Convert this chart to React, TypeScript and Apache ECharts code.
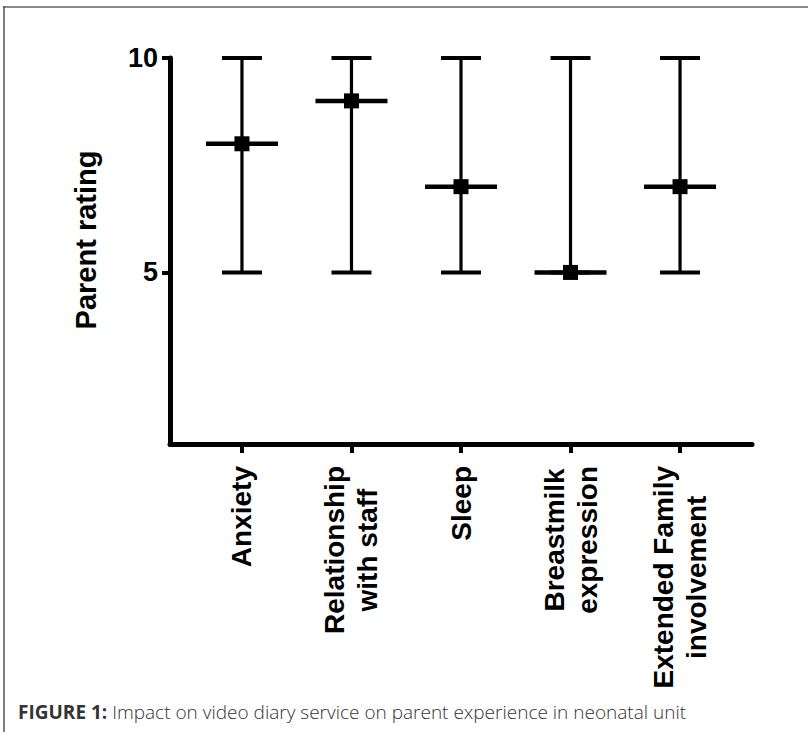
import React, { useEffect, useRef } from "react";
import * as echarts from "echarts";

const categories = [
  "Anxiety",
  "Relationship\nwith staff",
  "Sleep",
  "Breastmilk\nexpression",
  "Extended Family\ninvolvement",
];
const lows = [5, 5, 5, 5, 5];
const highs = [10, 10, 10, 10, 10];
const medians = [8, 9, 7, 5, 7];
const yTicks = [5, 10];
const yName = "Parent rating";
const captionBold = "FIGURE 1:";
const captionText = " Impact on video diary service on parent experience in neonatal unit";

const FONT = "'Liberation Sans', Arial, Helvetica, sans-serif";
const LABEL_SIZE = 28;
const LABEL_LINE = 33;
const Y_MIN = 1;
const Y_MAX = 10;

function measure(t: string, size: number): number {
  const ctx = document.createElement("canvas").getContext("2d");
  if (!ctx) return t.length * size * 0.55;
  ctx.font = `bold ${size}px 'Liberation Sans'`;
  return ctx.measureText(t).width;
}

export default function App() {
  const ref = useRef<HTMLDivElement>(null);
  useEffect(() => {
    if (!ref.current) return;
    const chart = echarts.init(ref.current, null, { renderer: "svg" });
    const xIdx = categories.map((_, i) => i);
    const barData = categories.map((_, i) => [i, lows[i], highs[i], medians[i]]);
    const medData = categories.map((_, i) => [i, medians[i]]);

    chart.setOption({
      animation: false,
      backgroundColor: "#ffffff",
      grid: { left: 170, right: 56, top: 58, bottom: 288, containLabel: false },
      xAxis: {
        type: "value",
        min: -0.657,
        max: 4.657,
        splitLine: { show: false },
        axisLine: { show: true, onZero: false, lineStyle: { color: "#000", width: 5 } },
        axisTick: {
          show: true,
          customValues: xIdx,
          length: 9,
          lineStyle: { color: "#000", width: 4 },
        },
        axisLabel: { show: false },
      },
      yAxis: {
        type: "value",
        min: Y_MIN,
        max: Y_MAX,
        name: yName,
        nameLocation: "middle",
        nameRotate: 90,
        nameGap: 70,
        nameTextStyle: {
          color: "#000",
          fontFamily: FONT,
          fontWeight: "bold",
          fontSize: 29,
          padding: [0, 0, 0, 22],
        },
        splitLine: { show: false },
        axisLine: { show: true, onZero: false, lineStyle: { color: "#000", width: 5 } },
        axisTick: {
          show: true,
          customValues: yTicks,
          length: 8,
          lineStyle: { color: "#000", width: 4 },
        },
        axisLabel: {
          show: true,
          customValues: yTicks,
          margin: 12,
          color: "#000",
          fontFamily: FONT,
          fontWeight: "bold",
          fontSize: 27,
        },
      },
      series: [
        {
          type: "custom",
          data: barData,
          renderItem: (params: any, api: any) => {
            const x = api.value(0);
            const lo = api.coord([x, api.value(1)]);
            const hi = api.coord([x, api.value(2)]);
            const md = api.coord([x, api.value(3)]);
            const cx = lo[0];
            const capW = 20;
            const medW = 36;
            const st = { stroke: "#000" };
            return {
              type: "group",
              children: [
                { type: "line", shape: { x1: cx, y1: hi[1], x2: cx, y2: lo[1] }, style: { ...st, lineWidth: 3.2 } },
                { type: "line", shape: { x1: cx - capW, y1: hi[1], x2: cx + capW, y2: hi[1] }, style: { ...st, lineWidth: 4 } },
                { type: "line", shape: { x1: cx - capW, y1: lo[1], x2: cx + capW, y2: lo[1] }, style: { ...st, lineWidth: 4 } },
                { type: "line", shape: { x1: cx - medW, y1: md[1], x2: cx + medW, y2: md[1] }, style: { ...st, lineWidth: 4.5 } },
              ],
            };
          },
          z: 2,
        },
        {
          type: "scatter",
          data: medData,
          symbol: "rect",
          symbolSize: 15,
          itemStyle: { color: "#000", opacity: 1 },
          z: 3,
        },
      ],
    });

    // Category labels at the x axis's tick positions (through the axis scale), rotated,
    // each line its own text so that the lines of a label are centred on each other.
    const labelGraphics: any[] = [];
    categories.forEach((c, i) => {
      const p = chart.convertToPixel({ xAxisIndex: 0, yAxisIndex: 0 }, [i, Y_MIN]) as number[];
      const lines = c.split("\n");
      const widths = lines.map((l) => measure(l, LABEL_SIZE));
      const maxW = Math.max(...widths);
      lines.forEach((l, j) => {
        labelGraphics.push({
          type: "text",
          id: "cat" + i + "_" + j,
          x: p[0] + (j - (lines.length - 1) / 2) * LABEL_LINE,
          y: p[1] + 22 + (maxW - widths[j]) / 2,
          rotation: Math.PI / 2,
          silent: true,
          style: {
            text: l,
            align: "right",
            verticalAlign: "middle",
            fontFamily: FONT,
            fontWeight: "bold",
            fontSize: LABEL_SIZE,
            fill: "#000",
          },
        });
      });
    });

    chart.setOption({
      graphic: [
        {
          type: "line",
          id: "borderTop",
          shape: { x1: 3, y1: 7, x2: 808, y2: 7 },
          style: { stroke: "#8a8a8a", lineWidth: 2 },
        },
        {
          type: "line",
          id: "borderLeft",
          shape: { x1: 4, y1: 6, x2: 4, y2: 732 },
          style: { stroke: "#555", lineWidth: 1.5 },
        },
        {
          type: "text",
          id: "caption",
          left: 18,
          top: 702,
          style: {
            text: "{b|" + captionBold + "}{n|" + captionText + "}",
            rich: {
              b: { fontFamily: "'Open Sans', sans-serif", fontWeight: "bold", fontSize: 19, fill: "#333" },
              n: { fontFamily: "'Open Sans', sans-serif", fontWeight: 300, fontSize: 19, fill: "#333" },
            },
          },
        },
        ...labelGraphics,
      ],
    });
    return () => chart.dispose();
  }, []);
  return (
    <div
      ref={ref}
      style={{ position: "absolute", left: 0, top: 0, width: 808, height: 732 }}
    />
  );
}
